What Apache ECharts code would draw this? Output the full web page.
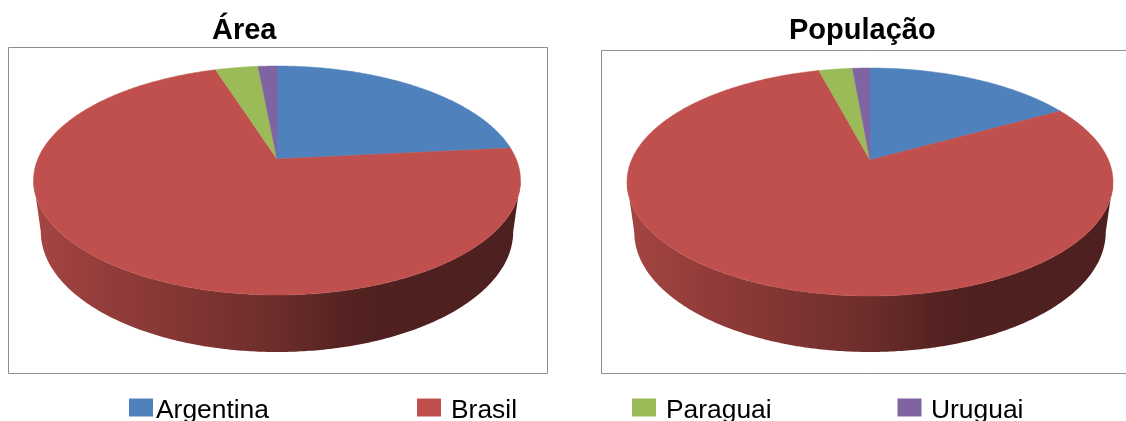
<!DOCTYPE html>
<html>
<head>
<meta charset="utf-8">
<style>html,body{margin:0;padding:0;background:#fff;overflow:hidden}#chart{width:1126px;height:421px}</style>
<script src="https://cdn.jsdelivr.net/npm/echarts@6/dist/echarts.min.js"></script>
</head>
<body>
<div id="chart"></div>
<script>
// Shares (%) per country
const countries = ['Argentina', 'Brasil', 'Paraguai', 'Uruguai'];
const areaShares = [23.4, 71.7, 3.4, 1.5];
const populationShares = [16.9, 79.0, 2.7, 1.4];
const chartTitles = ['Área', 'População'];

const colors = ['#4F81BD', '#C0504D', '#9BBB59', '#8064A2'];
const FONT = '"Liberation Sans", Arial, sans-serif';

// Perspective layout of each disc: apex of the slices, far/near extent of the
// top face, half width, and how the lower rim sits below it.
const discs = [
  { shares: areaShares, ax: 277, ay: 159, far: 93, near: 136, half: 243.5, rimX: 0.97, rimY: 1.05, rimBottom: 352,
    frame: [8.5, 47.5, 539, 326], titleX: 212, titleY: 16 },
  { shares: populationShares, ax: 870, ay: 160, far: 92, near: 136, half: 243, rimX: 0.97, rimY: 1.05, rimBottom: 352,
    frame: [601.5, 50.5, 540, 323], titleX: 789, titleY: 16 }
];
const legendSlots = [
  { left: 129, gap: -2 }, { left: 417, gap: 5 }, { left: 632, gap: 5 }, { left: 897.5, gap: 4.5 }
];

function projector(d) {
  const c = (d.far - d.near) / (d.far + d.near);
  const a = d.far * (1 - c);
  const w = d.half * Math.sqrt(1 - c * c);
  // Maps an angle, clockwise from the top of the disc, to the top face
  const top = t => {
    const u = Math.sin(t), v = -Math.cos(t), k = 1 + c * v;
    return [d.ax + w * u / k, d.ay + a * v / k];
  };
  // Same circle on the lower rim, slightly narrower and shifted down
  const yNear = d.ay + d.near;
  const rim = t => {
    const p = top(t);
    return [d.ax + (p[0] - d.ax) * d.rimX, d.rimBottom + (p[1] - yNear) * d.rimY];
  };
  return { top, rim, edge: Math.acos(c) };
}

function shade(hex, f) {
  const n = parseInt(hex.slice(1), 16);
  const ch = s => Math.round(((n >> s) & 255) * f);
  return 'rgb(' + ch(16) + ',' + ch(8) + ',' + ch(0) + ')';
}

function sweep(fn, from, to) {
  const pts = [];
  const steps = Math.max(2, Math.ceil(Math.abs(to - from) / 0.01));
  for (let i = 0; i <= steps; i++) pts.push(fn(from + (to - from) * i / steps));
  return pts;
}

function makeSeries(disc) {
  const proj = projector(disc);
  const total = disc.shares.reduce((s, x) => s + x, 0);
  let acc = 0;
  return countries.map((name, i) => {
    const start = acc;
    acc += disc.shares[i];
    return {
      type: 'custom',
      name,
      coordinateSystem: 'none',
      silent: true,
      animation: false,
      itemStyle: { color: colors[i] },
      data: [[disc.shares[i], start]],
      renderItem: (params, api) => {
        const t0 = api.value(1) / total * 2 * Math.PI;
        const t1 = t0 + api.value(0) / total * 2 * Math.PI;
        const children = [];
        // Visible side wall: the part of the slice facing the viewer
        const w0 = Math.max(t0, proj.edge), w1 = Math.min(t1, 2 * Math.PI - proj.edge);
        if (w1 > w0) {
          const topEdge = sweep(proj.top, w0, w1);
          const rimEdge = sweep(proj.rim, w1, w0);
          const left = disc.ax - disc.half, right = disc.ax + disc.half;
          children.push({
            type: 'polygon',
            shape: { points: topEdge.concat(rimEdge) },
            style: {
              fill: {
                type: 'linear', global: true, x: left, y: 0, x2: right, y2: 0,
                colorStops: [
                  { offset: 0, color: shade(colors[i], 0.86) },
                  { offset: 0.12, color: shade(colors[i], 0.78) },
                  { offset: 0.3, color: shade(colors[i], 0.68) },
                  { offset: 0.5, color: shade(colors[i], 0.56) },
                  { offset: 0.65, color: shade(colors[i], 0.43) },
                  { offset: 0.76, color: shade(colors[i], 0.405) },
                  { offset: 1, color: shade(colors[i], 0.405) }
                ]
              }
            }
          });
        }
        // Top face of the slice
        children.push({
          type: 'polygon',
          shape: { points: [[disc.ax, disc.ay]].concat(sweep(proj.top, t0, t1)) },
          style: { fill: colors[i], stroke: colors[i], lineWidth: 0.5 }
        });
        return { type: 'group', children };
      }
    };
  });
}

const chart = echarts.init(document.getElementById('chart'), null, { renderer: 'canvas' });
chart.setOption({
  animation: false,
  backgroundColor: '#fff',
  title: discs.map((d, k) => ({
    text: chartTitles[k],
    left: d.titleX,
    top: d.titleY,
    padding: 0,
    textStyle: { fontFamily: FONT, fontWeight: 'bold', fontSize: 29, color: '#000' }
  })),
  legend: countries.map((name, i) => ({
    data: [name],
    left: legendSlots[i].left,
    top: 398,
    padding: 0,
    orient: 'horizontal',
    selectedMode: false,
    icon: 'rect',
    itemWidth: 24,
    itemHeight: 18,
    formatter: '{t|{name}}',
    textStyle: {
      fontFamily: FONT, fontSize: 26.4, color: '#000', padding: [0, 0, 0, legendSlots[i].gap],
      rich: { t: { fontFamily: FONT, fontSize: 26.4, color: '#000', padding: [7, 0, 0, 0] } }
    }
  })),
  graphic: discs.map(d => ({
    type: 'rect',
    silent: true,
    z: -1,
    shape: { x: d.frame[0], y: d.frame[1], width: d.frame[2], height: d.frame[3] },
    style: { fill: '#fff', stroke: '#8e8e8e', lineWidth: 1 }
  })),
  series: discs.flatMap(makeSeries)
});
</script>
</body>
</html>
